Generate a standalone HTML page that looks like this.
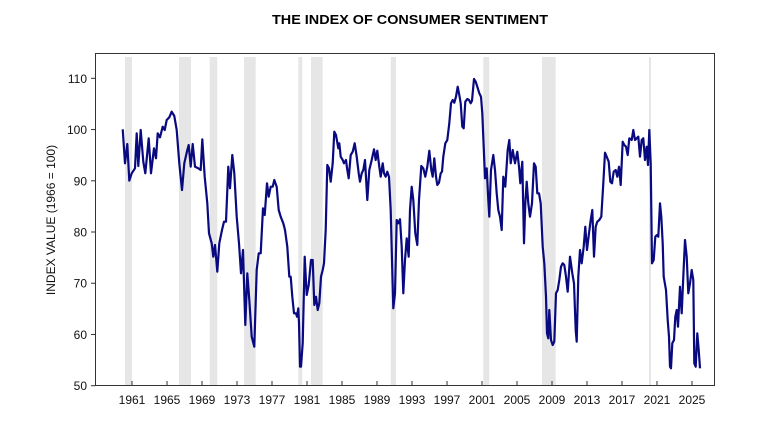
<!DOCTYPE html>
<html><head><meta charset="utf-8"><style>
html,body{margin:0;padding:0;background:#fff;}
svg{display:block;font-family:"Liberation Sans",Arial,sans-serif;}
</style></head><body>
<svg id="s" width="780" height="428" viewBox="0 0 780 428" xmlns="http://www.w3.org/2000/svg">
<text x="410" y="24" text-anchor="middle" font-size="13" font-weight="bold" textLength="276" lengthAdjust="spacingAndGlyphs">THE INDEX OF CONSUMER SENTIMENT</text>
<g fill="#e6e6e6">
<rect x="125" y="57" width="7" height="328"/>
<rect x="179" y="57" width="12" height="328"/>
<rect x="209.7" y="57" width="7.6" height="328"/>
<rect x="244" y="57" width="11.7" height="328"/>
<rect x="298.3" y="57" width="4" height="328"/>
<rect x="311" y="57" width="11.7" height="328"/>
<rect x="390.7" y="57" width="5.3" height="328"/>
<rect x="483.3" y="57" width="6" height="328"/>
<rect x="542" y="57" width="13.7" height="328"/>
<rect x="649" y="57" width="2" height="328"/>
</g>
<rect x="95.5" y="53.5" width="619" height="332" fill="none" stroke="#333" stroke-width="1"/>
<g id="ax" font-size="12" fill="#111"></g>
<text transform="translate(55,220) rotate(-90)" text-anchor="middle" font-size="12" fill="#111">INDEX VALUE (1966 = 100)</text>
<polyline id="ln" fill="none" stroke="#0a0a80" stroke-width="2.2" stroke-linejoin="round"/>
</svg>
<script>
var z1=[248,298,255,400,262,342,268,452,275,430,285,415,290,310,295,408,302,300,310,395,316,430,326,325,333,430,342,355,348,385,353,310,360,322,368,290,374,300,380,270,388,262,395,245,403,258,410,300,418,400,426,480,433,400,442,360,446,345,452,410,458,342,465,410,475,415,482,420,487,328,494,440,502,520,507,610,515,640,520,680,525,645,532,725,538,640,546,600,552,575,558,575,565,410,570,475,577,375,583,430,590,560,597,640,603,730,609,660,616,885,622,730,628,810,635,920,643,950,650,720,656,670,662,670,669,535,674,555,681,460,686,500,692,470,698,470,703,450,710,470,716,540,722,560,730,580,735,600,742,650,748,740,752,740,757,800,762,850,768,850,771,860,775,835,777,880,780,1010,783,1010,788,940,794,680,800,795,806,765,813,690,818,690,823,825,828,800,833,840,838,820,843,740,848,720,852,700,857,600,862,405,867,415,872,455,878,400,883,305];
var z3=[48,225,55,265,58,250,62,290,68,300,72,310,78,300,82,330,86,355,92,285,98,275,104,250,110,290,116,340,120,365,125,340,130,330,135,300,142,420,148,330,155,300,162,268,167,300,172,272,178,320,182,350,188,310,192,340,197,350,202,335,207,350,212,450,216,600,220,745,225,700,230,480,235,490,240,478,245,560,250,700,255,600,260,535,266,590,270,450,275,380,280,420,286,520,292,555,297,420,304,318,310,325,316,350,322,320,328,272,334,330,338,350,343,295,348,350,352,375,357,368,362,340,366,335,370,290,376,250,382,240,388,190,393,130,398,120,403,128,408,110,413,80,418,105,422,130,427,200,431,205,436,125,442,117,447,120,452,130,456,122,462,57,467,65,472,80,478,100,483,110,487,160,491,260,495,355,500,325,505,420,508,470,513,330,520,285,525,330,530,400,535,450,540,470];
var z2=[185,600,190,440,196,470,203,360,208,330,212,400,218,360,225,400,232,365,237,410,241,460,247,395,252,640,256,520,260,455,265,520,270,560,276,520,282,400,287,410,292,490,297,490,302,520,308,650,313,700,318,800,321,910,325,925,328,840,333,930,338,945,343,935,348,790,353,780,358,750,363,710,368,700,373,705,378,740,383,785,390,680,397,730,402,760,407,900,410,935,415,740,420,660,425,700,431,650,436,590,441,660,447,610,452,570,457,540,462,680,467,590,472,575,478,570,484,560,490,460,495,368,500,380,506,395,511,455,516,460,521,425,527,420,532,440,537,410,542,465,548,335,553,345,558,350,563,375,568,325,575,330,580,300,585,330,590,325,595,320,600,380,605,330,610,325,615,390,620,350,624,405,628,300,632,400,636,700,641,690,646,620,651,615,655,620,660,520,664,560,668,640,671,740,678,780,683,870,687,920,690,1010,693,1015,697,940,702,930,706,860,710,840,714,890,720,770,725,850,730,740,735,630,740,680,745,790,750,760,755,720,760,750,763,1000,767,1010,772,910,776,960,780,1015];
var pts=[];
function add(a,ox,oy){for(var i=0;i<a.length;i+=2)pts.push((ox+a[i]/3).toFixed(1)+","+(oy+a[i+1]/3).toFixed(1));}
add(z1,40,30);add(z3,320,60);add(z2,440,30);
document.getElementById("ln").setAttribute("points",pts.join(" "));
var ax=document.getElementById("ax"),h="";
for(var v=50;v<=110;v+=10){var y=385.7-(v-50)*5.123;
h+='<line x1="91" x2="95.5" y1="'+y+'" y2="'+y+'" stroke="#333"/>';
h+='<text x="87" y="'+(y+4.5)+'" text-anchor="end">'+v+'</text>';}
for(var yr=1961;yr<=2025;yr+=4){var x=132+(yr-1961)*8.75;
h+='<line x1="'+x+'" x2="'+x+'" y1="381" y2="385.5" stroke="#333"/>';
h+='<text x="'+x+'" y="404" text-anchor="middle">'+yr+'</text>';}
ax.innerHTML=h;
</script>
</body></html>
